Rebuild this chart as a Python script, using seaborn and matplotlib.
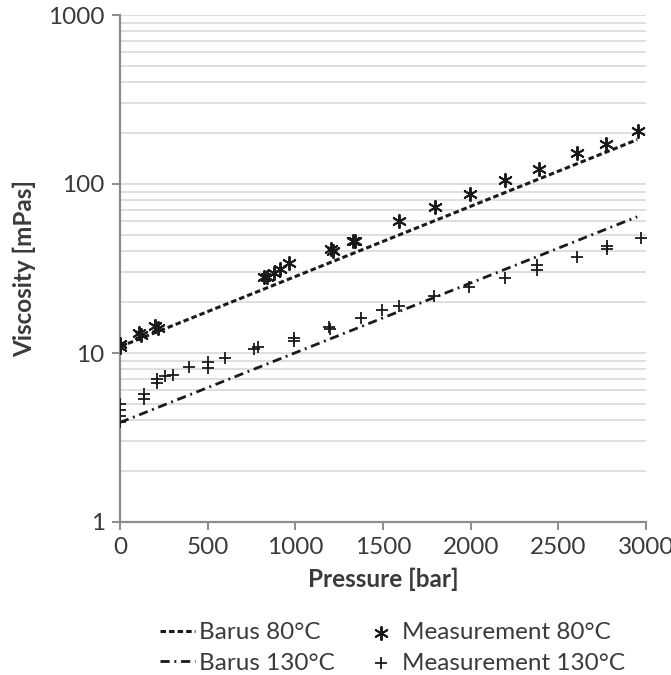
import numpy as np
import pandas as pd
import matplotlib
matplotlib.use("Agg")
import matplotlib.pyplot as plt
import seaborn as sns

# ---- data ----
p_meas80 = [0, 0, 110, 120, 200, 215, 822, 840, 876, 913, 962, 1203, 1215,
            1331, 1340, 1593, 1795, 1998, 2197, 2391, 2607, 2772, 2956]
v_meas80 = [11.3, 10.9, 13.1, 12.7, 14.4, 14.0, 28.1, 28.0, 29.8, 31.6, 34.1,
            41.1, 40.0, 46.3, 46.0, 60.3, 73, 87, 105, 123, 152, 173, 206]

p_meas130 = [0, 0, 0, 0, 135, 135, 211, 211, 257, 302, 394, 503, 503, 599,
             765, 787, 992, 992, 1192, 1200, 1372, 1497, 1593, 1790, 1993,
             2195, 2381, 2381, 2607, 2779, 2779, 2970]
v_meas130 = [5.0, 4.6, 4.25, 3.9, 5.75, 5.35, 7.05, 6.6, 7.35, 7.45, 8.3, 8.8,
             8.2, 9.4, 10.5, 10.8, 12.3, 11.8, 14.2, 13.8, 16.1, 17.9, 19.0,
             21.6, 24.6, 27.8, 33, 31, 37, 43.2, 41.1, 47.6]

p_barus = [0, 2950]
v_barus80 = [10.9, 183]
v_barus130 = [3.88, 64]

x_ticks = [0, 500, 1000, 1500, 2000, 2500, 3000]
y_ticks = [1, 10, 100, 1000]
y_ticklabels = ["1", "10", "100", "1000"]

labels = ["Barus 80°C", "Barus 130°C", "Measurement 80°C", "Measurement 130°C"]

# ---- style ----
sns.set_theme(style="white")
plt.rcParams["font.family"] = ["Lato", "DejaVu Sans"]
txt = "#3a3a3a"
grid_c = "#d9d9d9"
axis_c = "#8c8c8c"
fs = 17.5

fig = plt.figure(figsize=(6.71, 6.75), dpi=100)
ax = fig.add_axes([120 / 671, 1 - 522 / 675, 526 / 671, (522 - 15) / 675])

df80 = pd.DataFrame({"p": p_barus, "v": v_barus80})
df130 = pd.DataFrame({"p": p_barus, "v": v_barus130})
sns.lineplot(data=df80, x="p", y="v", ax=ax, color="#1a1a1a", lw=2.2,
             linestyle=(0, (1.8, 1.0)), label=labels[0], zorder=3)
sns.lineplot(data=df130, x="p", y="v", ax=ax, color="#1a1a1a", lw=2.0,
             linestyle=(0, (3.3, 1.7, 0.7, 1.7)), label=labels[1], zorder=3)

dm80 = pd.DataFrame({"p": p_meas80, "v": v_meas80})
dm130 = pd.DataFrame({"p": p_meas130, "v": v_meas130})
sns.scatterplot(data=dm80, x="p", y="v", ax=ax, marker=(6, 2, 0), s=90,
                color="#1a1a1a", linewidth=1.4, label=labels[2], zorder=4)
sns.scatterplot(data=dm130, x="p", y="v", ax=ax, marker="+", s=80,
                color="#1a1a1a", linewidth=1.3, label=labels[3], zorder=4)

ax.set_yscale("log")
ax.set_xlim(0, 3000)
ax.set_ylim(1, 1000)
ax.set_xticks(x_ticks)
ax.set_xticklabels([str(t) for t in x_ticks])
ax.set_yticks(y_ticks)
ax.set_yticklabels(y_ticklabels)
ax.yaxis.set_minor_formatter(matplotlib.ticker.NullFormatter())

ax.grid(True, which="both", axis="y", color=grid_c, lw=1.2, zorder=0)
ax.grid(False, axis="x")
ax.set_axisbelow(True)
for s in ["top", "right"]:
    ax.spines[s].set_visible(False)
for s in ["left", "bottom"]:
    ax.spines[s].set_color(axis_c)
    ax.spines[s].set_linewidth(1.6)

ax.tick_params(axis="both", which="major", direction="out", length=6,
               width=1.4, color=axis_c, labelsize=fs, labelcolor=txt, pad=5,
               left=True, bottom=True)
ax.tick_params(axis="y", which="minor", left=False)

ax.set_xlabel("Pressure [bar]", fontsize=fs, fontweight="bold", color=txt,
              labelpad=7)
ax.set_ylabel("Viscosity [mPas]", fontsize=fs, fontweight="bold", color=txt,
              labelpad=9)

handles, labs = ax.get_legend_handles_labels()
if ax.get_legend() is not None:
    ax.get_legend().remove()
order = [labs.index(l) for l in labels]
leg = fig.legend([handles[i] for i in order], [labs[i] for i in order],
                 loc="center", bbox_to_anchor=(0.585, 0.040), ncol=2,
                 frameon=False, fontsize=fs, handlelength=1.45,
                 handletextpad=0.15, columnspacing=1.2, labelspacing=0.38,
                 scatterpoints=1, borderpad=0)
for t in leg.get_texts():
    t.set_color(txt)

fig.savefig("out.png", dpi=100)
